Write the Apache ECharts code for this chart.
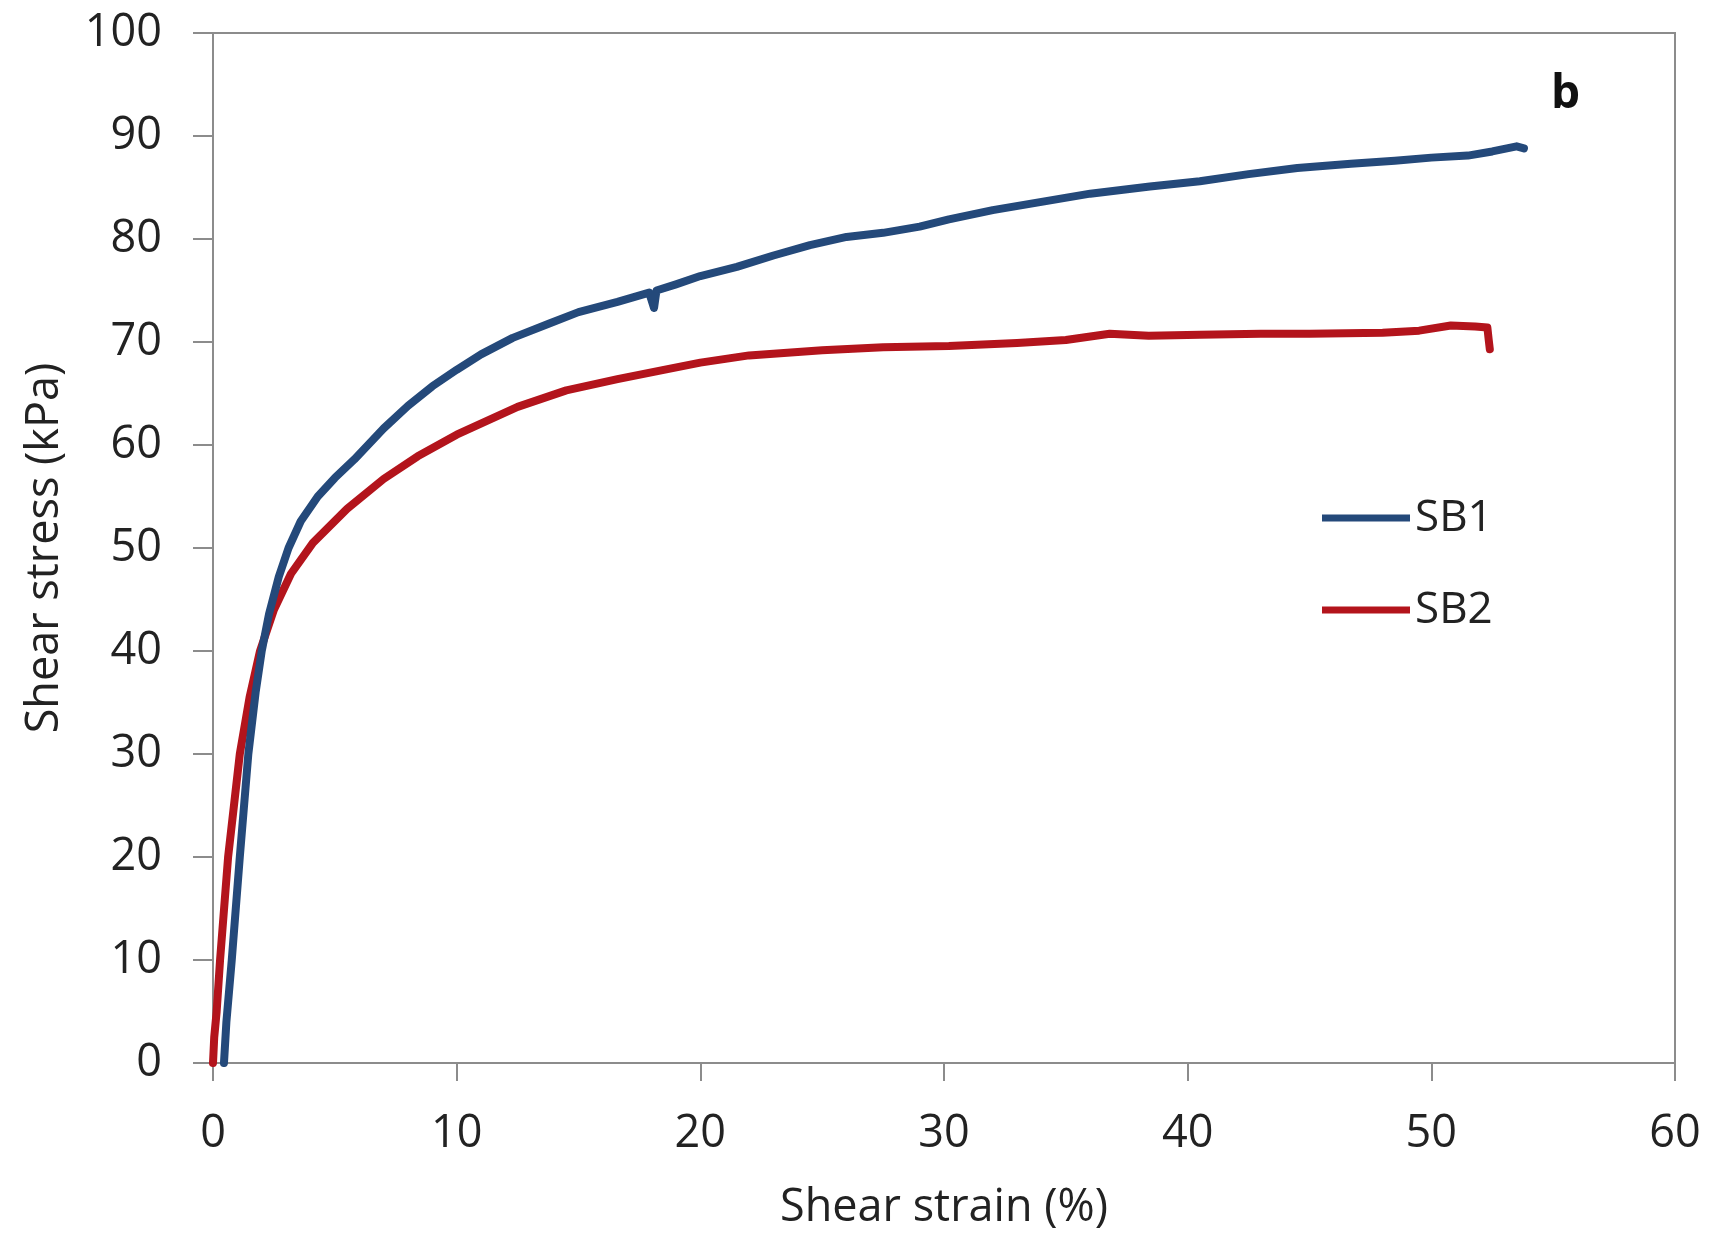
<!DOCTYPE html>
<html>
<head>
<meta charset="utf-8">
<script src="https://cdn.jsdelivr.net/npm/echarts@6/dist/echarts.min.js"></script>
<style>
html,body{margin:0;padding:0;background:#fff;}
#c{width:1720px;height:1238px;}
</style>
</head>
<body>
<div id="c"></div>
<script>
// SB1 (blue) — shear strain (%) and shear stress (kPa)
const sb1X = [0.45, 0.55, 0.77, 1.1, 1.45, 1.75, 2.0, 2.3, 2.7, 3.1, 3.6, 4.3, 5.0, 5.8, 7.0, 8.0, 9.0, 10.0, 11.0, 12.3, 13.8, 15.0, 16.6, 17.9, 18.1, 18.2, 19.0, 20.0, 21.5, 23.0, 24.5, 26.0, 27.5, 29.0, 30.2, 32.0, 34.0, 36.0, 38.45, 40.5, 42.5, 44.5, 46.7, 48.5, 50.0, 51.5, 52.5, 53.5, 53.8];
const sb1Y = [0, 4, 10, 20, 30, 36, 40, 43.6, 47.2, 50, 52.6, 55, 56.8, 58.6, 61.6, 63.8, 65.7, 67.3, 68.8, 70.4, 71.8, 72.9, 73.9, 74.8, 73.3, 75.0, 75.6, 76.4, 77.3, 78.4, 79.4, 80.2, 80.6, 81.2, 81.9, 82.8, 83.6, 84.4, 85.1, 85.6, 86.3, 86.9, 87.3, 87.6, 87.9, 88.1, 88.5, 89.0, 88.8];
// SB2 (red)
const sb2X = [0, 0.05, 0.15, 0.29, 0.62, 1.1, 1.5, 1.93, 2.5, 3.2, 4.1, 5.5, 7.0, 8.4, 10.0, 12.5, 14.5, 16.6, 18.5, 20.0, 22.0, 25.0, 27.5, 30.2, 33.0, 35.0, 36.8, 38.4, 40.5, 43.0, 45.0, 48.0, 49.5, 50.8, 51.8, 52.3, 52.35, 52.4];
const sb2Y = [0, 2.5, 5, 10, 20, 30, 35.5, 40, 44, 47.5, 50.5, 53.8, 56.7, 58.9, 61, 63.7, 65.3, 66.4, 67.3, 68, 68.7, 69.2, 69.5, 69.6, 69.9, 70.2, 70.8, 70.6, 70.7, 70.8, 70.8, 70.9, 71.1, 71.6, 71.5, 71.4, 70.3, 69.3];
const seriesNames = ['SB1', 'SB2'];
const xTitle = 'Shear strain (%)';
const yTitle = 'Shear stress (kPa)';
const panelLabel = 'b';

const pair = (xs, ys) => xs.map((x, i) => [x, ys[i]]);
const FONT = '"Open Sans", sans-serif';
const axisGray = '#8c8c8c';

const chart = echarts.init(document.getElementById('c'), null, {renderer: 'canvas'});
chart.setOption({
  animation: false,
  backgroundColor: '#fff',
  title: {
    text: panelLabel, left: 1551, top: 72, padding: 0,
    textStyle: {fontFamily: FONT, fontSize: 46, fontWeight: 'bold', color: '#111'}
  },
  legend: {
    orient: 'vertical', left: 1322, top: 492, padding: 0,
    itemWidth: 88, itemHeight: 7, itemGap: 40, icon: 'rect',
    textStyle: {fontFamily: FONT, fontSize: 44, color: '#222', lineHeight: 52},
    data: seriesNames
  },
  grid: {left: 213, right: 45, top: 33, bottom: 175, show: true, borderColor: axisGray, borderWidth: 2, containLabel: false},
  xAxis: {
    type: 'value', min: 0, max: 60, interval: 10,
    name: xTitle, nameLocation: 'middle', nameGap: 123,
    nameTextStyle: {fontFamily: FONT, fontSize: 45, color: '#222'},
    axisLine: {show: true, onZero: false, lineStyle: {color: axisGray, width: 2}},
    axisTick: {show: true, inside: false, length: 18, lineStyle: {color: axisGray, width: 2}},
    axisLabel: {fontFamily: FONT, fontSize: 45, color: '#222', margin: 49},
    splitLine: {show: false}
  },
  yAxis: {
    type: 'value', min: 0, max: 100, interval: 10,
    name: yTitle, nameLocation: 'middle', nameGap: 145,
    nameTextStyle: {fontFamily: FONT, fontSize: 45, color: '#222'},
    axisLine: {show: true, onZero: false, lineStyle: {color: axisGray, width: 2}},
    axisTick: {show: true, inside: false, length: 20, lineStyle: {color: axisGray, width: 2}},
    axisLabel: {fontFamily: FONT, fontSize: 45, color: '#222', margin: 51},
    splitLine: {show: false}
  },
  series: [
    {name: seriesNames[0], type: 'line', data: pair(sb1X, sb1Y), showSymbol: false, smooth: false,
     lineStyle: {color: '#24497a', width: 8, cap: 'round', join: 'round'}, itemStyle: {color: '#24497a'}, z: 3},
    {name: seriesNames[1], type: 'line', data: pair(sb2X, sb2Y), showSymbol: false, smooth: false,
     lineStyle: {color: '#b3141c', width: 8, cap: 'round', join: 'round'}, itemStyle: {color: '#b3141c'}, z: 2}
  ]
});
</script>
</body>
</html>
